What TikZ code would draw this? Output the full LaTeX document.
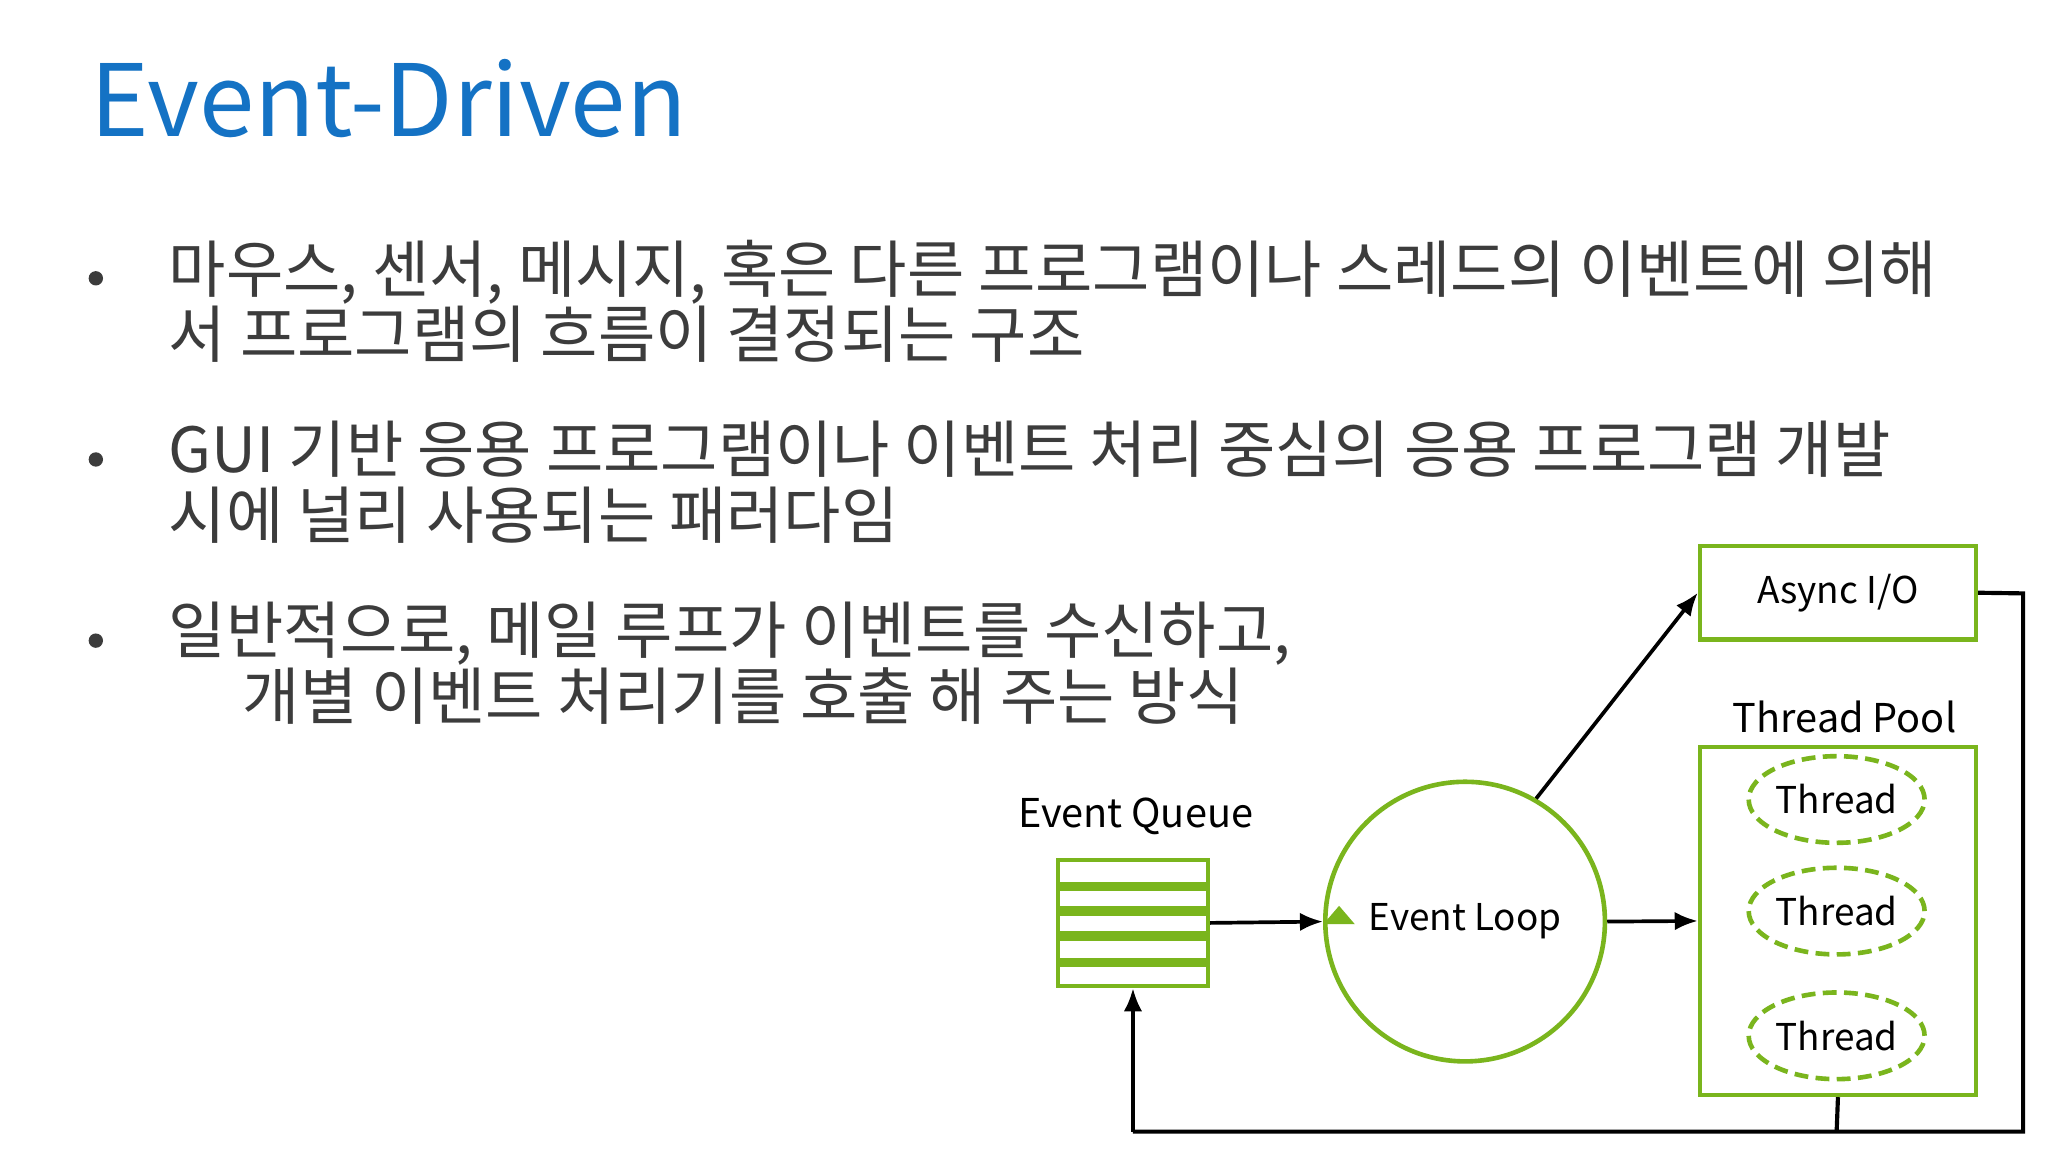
\documentclass[tikz,border=0pt]{standalone}
\usepackage{fontspec}
\setmainfont{Noto Sans CJK KR}
\usetikzlibrary{arrows.meta,shapes.geometric}
\definecolor{gr}{RGB}{122,181,29}
\definecolor{tb}{RGB}{20,114,196}
\definecolor{tx}{RGB}{60,60,60}
\begin{document}
\begin{tikzpicture}[x=0.1mm,y=-0.1mm,
  gbox/.style={draw=gr,line width=1pt},
  lbl/.style={font=\fontsize{8}{9}\selectfont,text=black},
  body/.style={font=\fontsize{13.5}{14.2}\selectfont,text=tx,anchor=north west,align=left,inner sep=0},
  conn/.style={line width=0.8pt,-{Latex[length=5pt,width=4pt]}},
  thr/.style={draw=gr,line width=1pt,dash pattern=on 3pt off 1.6pt,ellipse,minimum width=13.4mm,minimum height=6.6mm,inner sep=0}]
\useasboundingbox[fill=white] (0,0) rectangle (1560,877.5);
\node[anchor=base west,inner sep=0,text=tb,font=\fontsize{21.6}{23}\selectfont] (title) at (68,104) {Event-Driven};
\foreach \y/\n in {212/b1,350/b2,488/b3}{\node[circle,fill=tx,inner sep=1.1pt] (\n) at (73,\y) {};}
\node[body] (t1) at (128,182) {마우스, 센서, 메시지, 혹은 다른 프로그램이나 스레드의 이벤트에 의해\\서 프로그램의 흐름이 결정되는 구조};
\node[body] (t2) at (128,320) {GUI 기반 응용 프로그램이나 이벤트 처리 중심의 응용 프로그램 개발\\시에 널리 사용되는 패러다임};
\node[body] (t3) at (128,458) {일반적으로, 메일 루프가 이벤트를 수신하고,\\\hspace*{16pt}개별 이벤트 처리기를 호출 해 주는 방식};
% diagram
\node[gbox,minimum width=21mm,minimum height=7.1mm,lbl] (aio) at (1400,451.5) {Async I/O};
\node[lbl,font=\fontsize{8.6}{9}\selectfont] (tpl) at (1405,546) {Thread Pool};
\node[gbox,minimum width=21mm,minimum height=26.5mm] (pool) at (1400,701.5) {};
\node[thr,lbl] (th1) at (1399,609) {Thread};
\node[thr,lbl] (th2) at (1399,694) {Thread};
\node[thr,lbl] (th3) at (1399,789) {Thread};
\node[gbox,circle,minimum size=21.3mm,lbl] (loop) at (1116,702) {Event Loop};
\node[lbl,font=\fontsize{8.6}{9}\selectfont] (eql) at (865,622) {Event Queue};
\node[gbox,minimum width=11.4mm,minimum height=9.6mm] (q) at (863,703) {};
\foreach \yy in {675,694,713,733}{\draw[gr,line width=2pt] (806,\yy) -- (920,\yy);}
\fill[gr] (1020,690) -- (1032,704) -- (1008,704) -- cycle;
\draw[conn] (q.east) -- (loop.west);
\draw[conn] (loop.60) -- (aio.west);
\draw[conn] (loop.east) -- (pool.west);
\coordinate (c1) at (1541,452);
\coordinate (c2) at (1541,862);
\coordinate (c3) at (863,862);
\coordinate (c4) at (1399,862);
\draw[line width=0.9pt] (aio.east) -- (c1) -- (c2) -- (c3);
\draw[conn] (c3) -- (q.south);
\draw[line width=0.9pt] (pool.south) -- (c4);
\end{tikzpicture}
\end{document}
